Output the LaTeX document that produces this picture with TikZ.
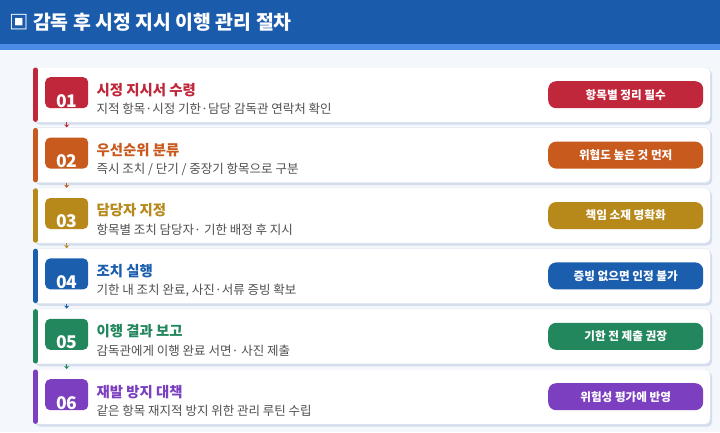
\documentclass[tikz,border=0pt]{standalone}
\usepackage{fontspec}
\usepackage{xcolor}
\usepackage{tikz}
\usetikzlibrary{positioning,shadows,arrows.meta}
\setmainfont{Noto Sans CJK KR}
\definecolor{headblue}{HTML}{1A5CAB}
\definecolor{headstripe}{HTML}{4A8CE6}
\definecolor{pagebg}{HTML}{F4F7FC}
\definecolor{cardline}{HTML}{E3E9F2}
\definecolor{shadowblue}{HTML}{D3DDEC}
\definecolor{subgray}{HTML}{505050}
\definecolor{stepred}{HTML}{C0273A}
\definecolor{steporange}{HTML}{C85A1E}
\definecolor{stepgold}{HTML}{B7891A}
\definecolor{stepblue}{HTML}{1B5EAE}
\definecolor{stepgreen}{HTML}{23875E}
\definecolor{steppurple}{HTML}{7B3FC0}

\begin{document}
\begin{tikzpicture}[x=1pt, y=-1pt, node distance=5pt,
	card/.style={draw=cardline, fill=white, rounded corners=5pt, minimum width=677pt, minimum height=55pt, inner sep=0pt, general shadow={fill=shadowblue, shadow xshift=2pt, shadow yshift=-2.5pt}},
	bar/.style={line width=5pt, line cap=round},
	badge/.style={rounded corners=5pt, minimum width=43pt, minimum height=31pt, inner sep=0pt},
	numtext/.style={text=white, font=\fontsize{17.5}{18}\selectfont\bfseries, inner sep=0pt},
	steptitle/.style={anchor=west, inner sep=0pt, font=\fontsize{14.4}{16}\selectfont\bfseries},
	stepnote/.style={anchor=west, inner sep=0pt, text=subgray, font=\fontsize{12.5}{14}\selectfont},
	pill/.style={rounded corners=8pt, minimum width=155pt, minimum height=27pt, inner sep=0pt, text=white, font=\fontsize{11.6}{13}\selectfont\bfseries},
	flow/.style={line width=1pt, -{Stealth[length=3pt, width=5pt]}}]
				\useasboundingbox (0,0) rectangle (720,432);
				\fill[pagebg] (0,0) rectangle (720,432);
				\fill[headblue] (0,0) rectangle (720,44);
				\fill[headstripe] (0,44) rectangle (720,50);
				\node (head) [anchor=west, inner sep=0pt, text=white, font=\fontsize{19.4}{21}\selectfont\bfseries] at (9,22) {▣ 감독 후 시정 지시 이행 관리 절차};

				\node (card1) [card, anchor=north west] at (33,67) {};
				\node (card2) [card, below=5pt of card1] {};
				\node (card3) [card, below=5pt of card2] {};
				\node (card4) [card, below=5pt of card3] {};
				\node (card5) [card, below=5pt of card4] {};
				\node (card6) [card, below=5pt of card5] {};

				\draw [bar, stepred] ([xshift=2.5pt,yshift=-3pt]card1.north west) -- ([xshift=2.5pt,yshift=3pt]card1.south west);
				\draw [bar, steporange] ([xshift=2.5pt,yshift=-3pt]card2.north west) -- ([xshift=2.5pt,yshift=3pt]card2.south west);
				\draw [bar, stepgold] ([xshift=2.5pt,yshift=-3pt]card3.north west) -- ([xshift=2.5pt,yshift=3pt]card3.south west);
				\draw [bar, stepblue] ([xshift=2.5pt,yshift=-3pt]card4.north west) -- ([xshift=2.5pt,yshift=3pt]card4.south west);
				\draw [bar, stepgreen] ([xshift=2.5pt,yshift=-3pt]card5.north west) -- ([xshift=2.5pt,yshift=3pt]card5.south west);
				\draw [bar, steppurple] ([xshift=2.5pt,yshift=-3pt]card6.north west) -- ([xshift=2.5pt,yshift=3pt]card6.south west);

				\node (n1) [badge, fill=stepred, right=12pt of card1.west, yshift=2pt] {};
				\node (n2) [badge, fill=steporange, right=12pt of card2.west, yshift=2pt] {};
				\node (n3) [badge, fill=stepgold, right=12pt of card3.west, yshift=2pt] {};
				\node (n4) [badge, fill=stepblue, right=12pt of card4.west, yshift=2pt] {};
				\node (n5) [badge, fill=stepgreen, right=12pt of card5.west, yshift=2pt] {};
				\node (n6) [badge, fill=steppurple, right=12pt of card6.west, yshift=2pt] {};

				\node (d1) [numtext] at ([yshift=-8pt]n1.center) {01};
				\node (d2) [numtext] at ([yshift=-8pt]n2.center) {02};
				\node (d3) [numtext] at ([yshift=-8pt]n3.center) {03};
				\node (d4) [numtext] at ([yshift=-8pt]n4.center) {04};
				\node (d5) [numtext] at ([yshift=-8pt]n5.center) {05};
				\node (d6) [numtext] at ([yshift=-8pt]n6.center) {06};

				\node (t1) [steptitle, text=stepred] at ([xshift=8pt,yshift=3pt]n1.east) {시정 지시서 수령};
				\node (s1) [stepnote] at ([xshift=8pt,yshift=-16.5pt]n1.east) {지적 항목·시정 기한·담당 감독관 연락처 확인};
				\node (t2) [steptitle, text=steporange] at ([xshift=8pt,yshift=3pt]n2.east) {우선순위 분류};
				\node (s2) [stepnote] at ([xshift=8pt,yshift=-16.5pt]n2.east) {즉시 조치 / 단기 / 중장기 항목으로 구분};
				\node (t3) [steptitle, text=stepgold] at ([xshift=8pt,yshift=3pt]n3.east) {담당자 지정};
				\node (s3) [stepnote] at ([xshift=8pt,yshift=-16.5pt]n3.east) {항목별 조치 담당자· 기한 배정 후 지시};
				\node (t4) [steptitle, text=stepblue] at ([xshift=8pt,yshift=3pt]n4.east) {조치 실행};
				\node (s4) [stepnote] at ([xshift=8pt,yshift=-16.5pt]n4.east) {기한 내 조치 완료, 사진·서류 증빙 확보};
				\node (t5) [steptitle, text=stepgreen] at ([xshift=8pt,yshift=3pt]n5.east) {이행 결과 보고};
				\node (s5) [stepnote] at ([xshift=8pt,yshift=-16.5pt]n5.east) {감독관에게 이행 완료 서면· 사진 제출};
				\node (t6) [steptitle, text=steppurple] at ([xshift=8pt,yshift=3pt]n6.east) {재발 방지 대책};
				\node (s6) [stepnote] at ([xshift=8pt,yshift=-16.5pt]n6.east) {같은 항목 재지적 방지 위한 관리 루틴 수립};

				\node (p1) [pill, fill=stepred, left=7pt of card1.east] {항목별 정리 필수};
				\node (p2) [pill, fill=steporange, left=7pt of card2.east] {위협도 높은 것 먼저};
				\node (p3) [pill, fill=stepgold, left=7pt of card3.east] {책임 소재 명확화};
				\node (p4) [pill, fill=stepblue, left=7pt of card4.east] {증빙 없으면 인정 불가};
				\node (p5) [pill, fill=stepgreen, left=7pt of card5.east] {기한 전 제출 권장};
				\node (p6) [pill, fill=steppurple, left=7pt of card6.east] {위험성 평가에 반영};

				\draw [flow, stepred] (n1.south |- card1.south) -- (n2.north |- card2.north);
				\draw [flow, steporange] (n2.south |- card2.south) -- (n3.north |- card3.north);
				\draw [flow, stepgold] (n3.south |- card3.south) -- (n4.north |- card4.north);
				\draw [flow, stepblue] (n4.south |- card4.south) -- (n5.north |- card5.north);
				\draw [flow, stepgreen] (n5.south |- card5.south) -- (n6.north |- card6.north);
			\end{tikzpicture}
\end{document}
